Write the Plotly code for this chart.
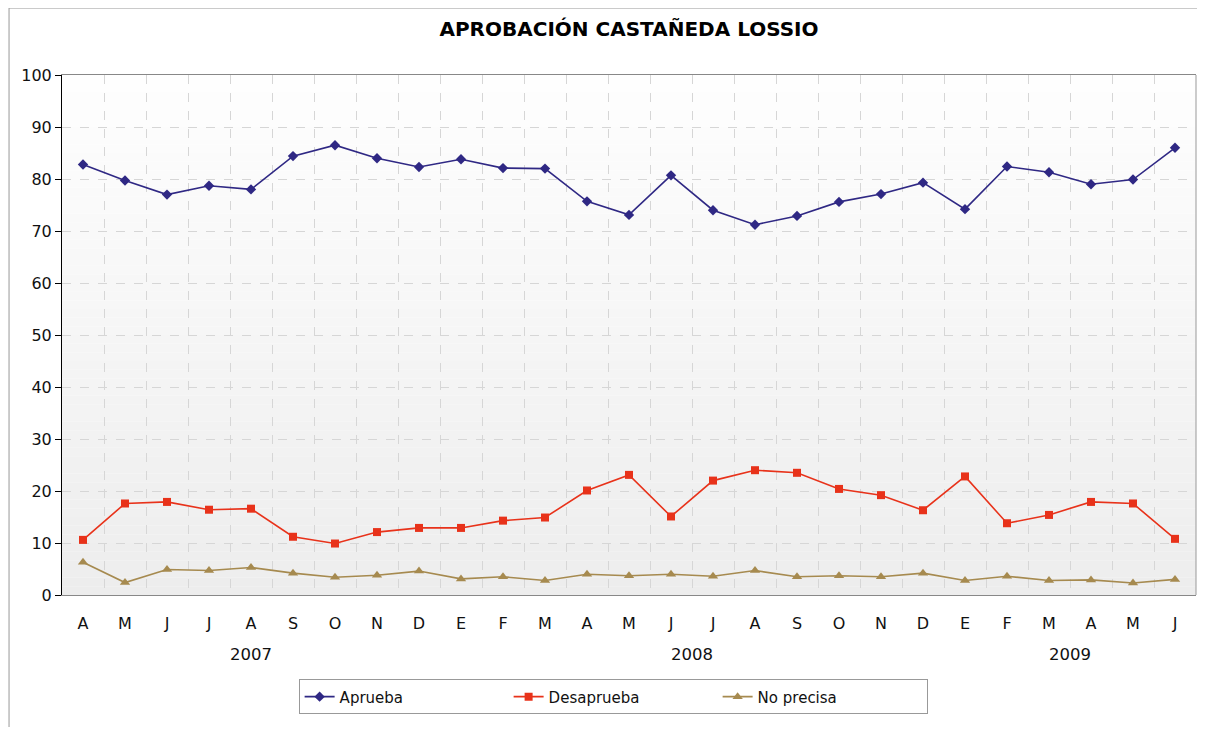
import plotly.graph_objects as go

months = ["A", "M", "J", "J", "A", "S", "O", "N", "D",
          "E", "F", "M", "A", "M", "J", "J", "A", "S", "O", "N", "D",
          "E", "F", "M", "A", "M", "J"]
years = ["2007", "2008", "2009"]
year_counts = [9, 12, 6]

aprueba = [82.8, 79.7, 77.0, 78.7, 78.0, 84.4, 86.5, 84.0, 82.3,
           83.8, 82.1, 82.0, 75.7, 73.1, 80.7, 74.0, 71.2, 72.9, 75.6, 77.1, 79.3,
           74.2, 82.4, 81.3, 79.0, 79.9, 86.0]
desaprueba = [10.6, 17.6, 17.9, 16.4, 16.6, 11.2, 9.9, 12.1, 12.9,
              12.9, 14.3, 14.9, 20.1, 23.1, 15.1, 22.0, 24.0, 23.5, 20.4, 19.2, 16.3,
              22.8, 13.8, 15.4, 17.9, 17.6, 10.8]
no_precisa = [6.3, 2.4, 4.9, 4.7, 5.3, 4.2, 3.4, 3.8, 4.6,
              3.1, 3.5, 2.8, 4.0, 3.7, 4.0, 3.6, 4.7, 3.5, 3.7, 3.5, 4.2,
              2.8, 3.6, 2.8, 2.9, 2.3, 3.0]

x = list(range(len(months)))
FONT = "DejaVu Sans, Verdana, sans-serif"

fig = go.Figure()
series = [
    ("Aprueba", aprueba, "#2f2884", "diamond", 8),
    ("Desaprueba", desaprueba, "#e8321a", "square", 8),
    ("No precisa", no_precisa, "#a68a4f", "triangle-up", 9),
]
for name, vals, color, sym, size in series:
    fig.add_trace(go.Scatter(
        x=x, y=vals, name=name, mode="lines+markers",
        line=dict(color=color, width=1.6),
        marker=dict(symbol=sym, size=size, color=color),
    ))

# gradient background of plot area
shapes = []
n = 60
top = (254, 254, 254)
bot = (237, 237, 237)
for i in range(n):
    t = i / (n - 1)
    c = tuple(round(top[k] + (bot[k] - top[k]) * t) for k in range(3))
    shapes.append(dict(type="rect", xref="x domain", yref="y domain",
                       x0=0, x1=1, y0=1 - (i + 1) / n, y1=1 - i / n,
                       fillcolor="rgb(%d,%d,%d)" % c, line=dict(width=0),
                       layer="below"))
# right border of plot
shapes.append(dict(type="line", xref="x domain", yref="y domain",
                   x0=1, x1=1, y0=0, y1=1, line=dict(color="#999999", width=1)))
# outer frame (left and top)
shapes.append(dict(type="line", xref="paper", yref="paper",
                   x0=-0.0467, x1=-0.0467, y0=-0.3, y1=1.1288,
                   line=dict(color="#999999", width=1)))
shapes.append(dict(type="line", xref="paper", yref="paper",
                   x0=-0.0467, x1=1.05, y0=1.1288, y1=1.1288,
                   line=dict(color="#999999", width=1)))

# year labels centred on their month groups
annotations = []
start = 0
for yr, cnt in zip(years, year_counts):
    center = start + (cnt - 1) / 2
    annotations.append(dict(x=center, y=-0.115, xref="x", yref="paper",
                            text=yr, showarrow=False, yanchor="middle",
                            font=dict(family=FONT, size=16.5, color="#111111")))
    start += cnt

fig.update_layout(
    width=1189, height=719,
    margin=dict(l=54, r=1, t=67, b=132),
    paper_bgcolor="white",
    plot_bgcolor="white",
    font=dict(family=FONT, color="#111111"),
    title=dict(text="<b>APROBACIÓN CASTAÑEDA LOSSIO</b>",
               x=0.5, xref="paper", xanchor="center",
               y=1 - 21 / 719, yref="container", yanchor="middle",
               font=dict(family=FONT, size=20, color="#000000")),
    showlegend=True,
    legend=dict(orientation="h", x=0.486, xanchor="center",
                y=-0.196, yanchor="middle",
                bordercolor="#999999", borderwidth=1, bgcolor="white",
                entrywidth=164, font=dict(family=FONT, size=15, color="#111111")),
    shapes=shapes,
    annotations=annotations,
)
fig.update_xaxes(
    range=[-0.5, len(months) - 0.5],
    tickmode="array", tickvals=x, ticktext=months,
    showgrid=False, zeroline=False,
    showline=True, linecolor="#888888", linewidth=1, mirror=True,
    ticks="", ticklabelstandoff=14,
    tickfont=dict(family=FONT, size=16, color="#111111"),
    minor=dict(tickmode="array", tickvals=[i + 0.5 for i in x[:-1]],
               showgrid=True, gridcolor="#d6d6d6", griddash="dash", gridwidth=1,
               ticks=""),
)
fig.update_yaxes(
    range=[0, 100], dtick=10,
    showgrid=True, gridcolor="#d6d6d6", griddash="dash", gridwidth=1,
    zeroline=False,
    showline=True, linecolor="#000000", linewidth=1,
    ticks="outside", ticklen=6, tickcolor="#000000",
    tickfont=dict(family=FONT, size=16, color="#111111"),
)

fig.write_html("out.html")
